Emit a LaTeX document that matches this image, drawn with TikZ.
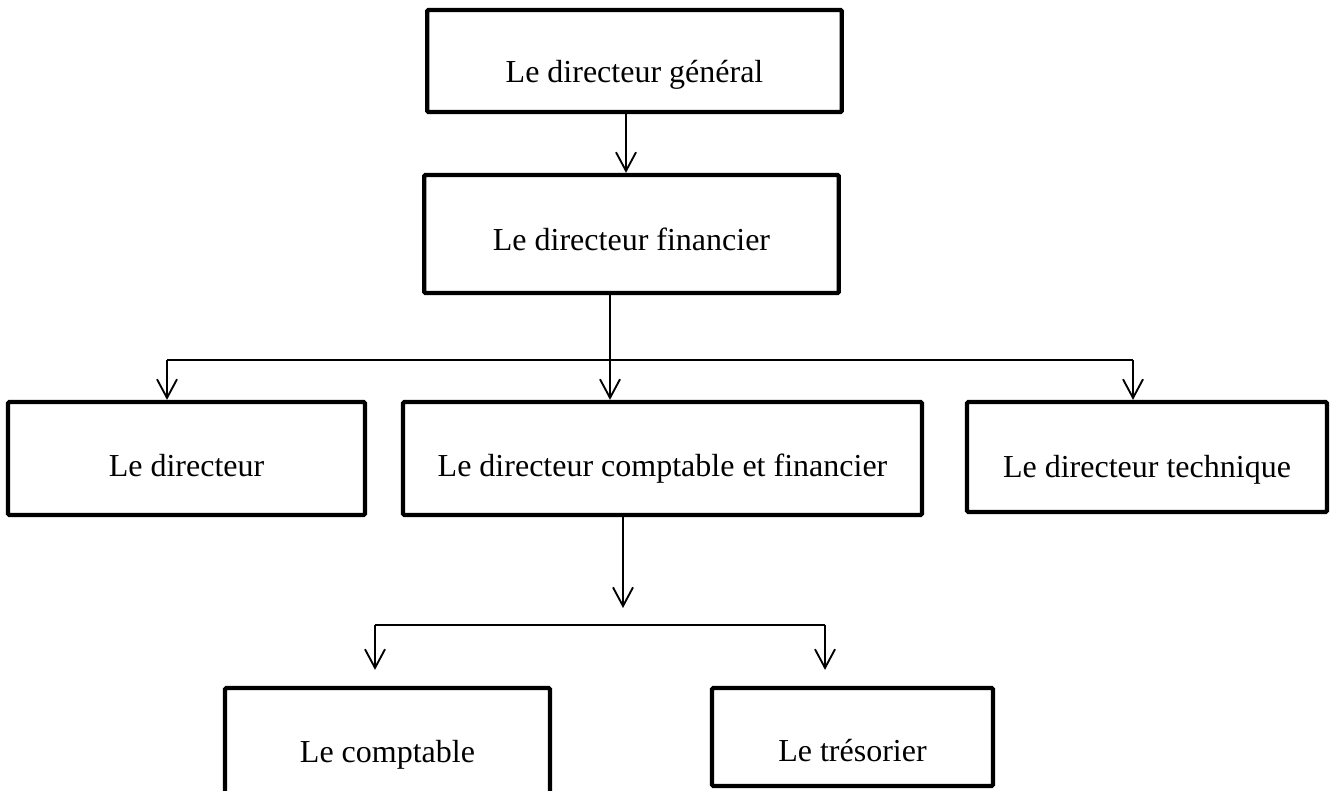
\documentclass[tikz,border=0pt]{standalone}
\usepackage{fontspec}
\setmainfont{Liberation Serif}
\usetikzlibrary{arrows.meta,calc}
\begin{document}
\begin{tikzpicture}[x=0.75pt,y=-0.75pt,
  box/.style={draw,line width=3.2pt,rounded corners=1pt,inner sep=0pt,
    font=\fontsize{24}{28}\selectfont,anchor=center,text depth=0pt},
  tb/.style={text height=#1},
  conn/.style={line width=1.4pt},
  arr/.style={conn,-{Straight Barb[length=14pt,width=15pt,line width=1.4pt]}}]
\useasboundingbox (0,0) rectangle (1331,790);
\clip (0,0) rectangle (1331,790);
\node[box,tb=32pt,minimum width=311pt,minimum height=76.5pt] (gen) at (634.5,61) {Le directeur général};
\node[box,tb=24pt,minimum width=311pt,minimum height=88.5pt] (fin) at (631.5,234) {Le directeur financier};
\node[box,tb=27pt,minimum width=267.75pt,minimum height=84.75pt] (dir) at (186.5,458.5) {Le directeur};
\node[box,tb=27pt,minimum width=389.25pt,minimum height=84.75pt] (dcf) at (662.5,458.5) {Le directeur comptable et financier};
\node[box,tb=30pt,minimum width=270pt,minimum height=82.5pt] (tech) at (1147,457) {Le directeur technique};
\node[box,tb=21pt,minimum width=243.75pt,minimum height=90pt] (compt) at (387.5,748) {Le comptable};
\node[box,tb=37pt,minimum width=210.75pt,minimum height=73.5pt] (tres) at (852.5,737) {Le trésorier};
% level 1
\coordinate (a1) at (626,0);
\draw[arr] (a1 |- gen.south) -- (a1 |- fin.north);
% level 2
\coordinate (b1) at (167,360);
\coordinate (b2) at (610,360);
\coordinate (b3) at (1133,360);
\draw[conn] (b1) -- (b3);
\draw[arr] (b2 |- fin.south) -- (b2 |- dcf.north);
\draw[arr] (b1) -- (b1 |- dir.north);
\draw[arr] (b3) -- (b3 |- tech.north);
% level 3
\coordinate (m) at (623,608);
\draw[arr] (m |- dcf.south) -- (m);
\coordinate (c1) at (375,625);
\coordinate (c2) at (825,625);
\draw[conn] (c1) -- (c2);
\draw[arr] (c1) -- ($(c1 |- compt.north)+(0,-16)$);
\draw[arr] (c2) -- ($(c2 |- tres.north)+(0,-16)$);
\end{tikzpicture}
\end{document}
